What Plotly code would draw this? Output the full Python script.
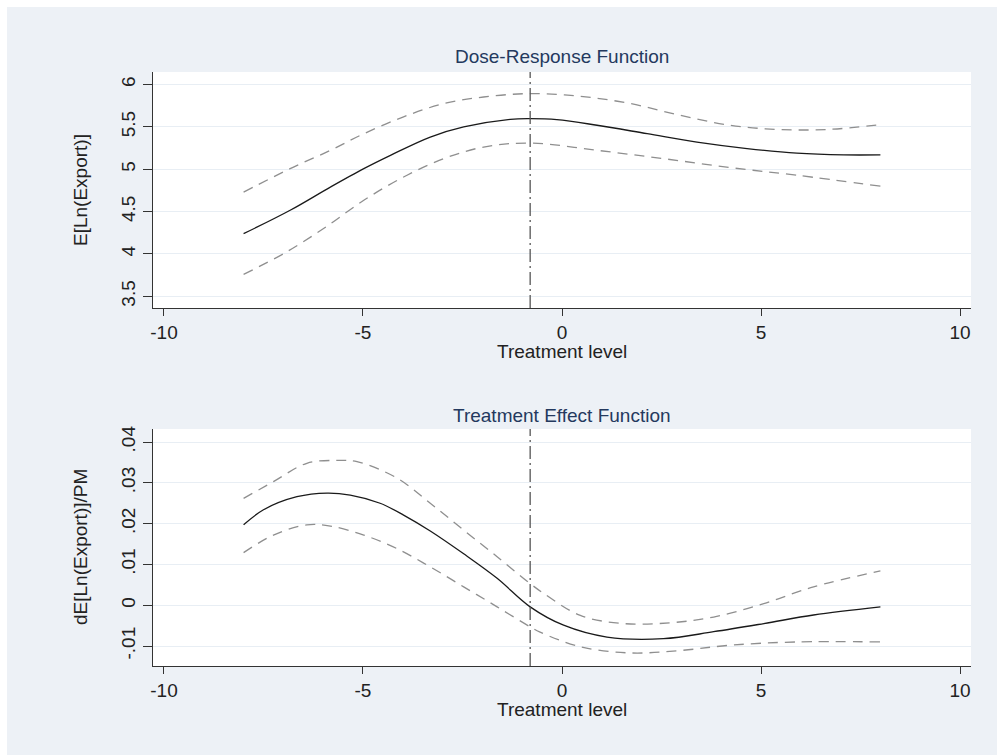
import plotly.graph_objects as go

# ---------------- data ----------------
# Dose-Response Function
dr_x = [-8.0, -6.83, -5.82, -4.98, -4.31, -3.31, -2.47, -1.30, -0.80, -0.13, 0.88, 2.14, 3.39, 4.65, 5.90, 7.08, 8.0]
dr_mean = [4.24, 4.516, 4.79, 5.008, 5.165, 5.381, 5.50, 5.59, 5.598, 5.587, 5.52, 5.42, 5.32, 5.244, 5.19, 5.17, 5.17]

dr_up_x = [-8.0, -6.83, -5.82, -4.98, -3.98, -2.97, -1.97, -0.80, 0.46, 1.72, 2.97, 4.23, 5.48, 6.74, 8.0]
dr_upper = [4.73, 5.008, 5.224, 5.42, 5.62, 5.776, 5.854, 5.894, 5.862, 5.776, 5.637, 5.52, 5.469, 5.472, 5.528]

dr_lo_x = [-8.0, -6.99, -5.99, -4.98, -3.98, -2.97, -1.97, -0.80, 0.88, 2.55, 4.23, 5.90, 8.0]
dr_lower = [3.76, 4.005, 4.30, 4.634, 4.909, 5.126, 5.263, 5.31, 5.224, 5.126, 5.02, 4.93, 4.80]

# Treatment Effect Function
te_x = [-8.0, -7.5, -6.66, -5.9, -5.32, -4.57, -3.98, -3.31, -2.47, -1.63, -0.80, 0.04, 1.13, 2.55, 3.81, 5.07, 6.32, 8.0]
te_mean = [0.0197, 0.0234, 0.0266, 0.0275, 0.0270, 0.0250, 0.0221, 0.0182, 0.0126, 0.0066, -0.0004,
           -0.0049, -0.0078, -0.0082, -0.0065, -0.0045, -0.0024, -0.0004]

te_up_x = [-8.0, -7.25, -6.41, -5.65, -5.15, -4.15, -3.31, -2.47, -1.63, -0.80, -0.46, 0.46, 1.55, 2.72, 3.81, 5.07, 6.32, 8.0]
te_upper = [0.0262, 0.0303, 0.0348, 0.0355, 0.0352, 0.0312, 0.0250, 0.0184, 0.0119, 0.0053, 0.0029,
            -0.0025, -0.0045, -0.0043, -0.0029, 0.0004, 0.0045, 0.0084]

te_lo_x = [-8.0, -7.25, -6.41, -5.82, -4.98, -4.15, -3.31, -2.47, -1.63, -0.80, -0.55, 0.46, 1.72, 2.97, 4.23, 5.90, 8.0]
te_lower = [0.0129, 0.0172, 0.0197, 0.0194, 0.0172, 0.0139, 0.0094, 0.0045, -0.0004, -0.0053, -0.0066,
            -0.0102, -0.0117, -0.0111, -0.0098, -0.0090, -0.0090]

ref_x = -0.8

x_ticks = [-10, -5, 0, 5, 10]
x_labels = ["-10", "-5", "0", "5", "10"]
y1_ticks = [3.5, 4, 4.5, 5, 5.5, 6]
y1_labels = ["3.5", "4", "4.5", "5", "5.5", "6"]
y2_ticks = [-0.01, 0, 0.01, 0.02, 0.03, 0.04]
y2_labels = ["-.01", "0", ".01", ".02", ".03", ".04"]

titles = ["Dose-Response Function", "Treatment Effect Function"]
x_title = "Treatment level"
y_titles = ["E[Ln(Export)]", "dE[Ln(Export)]/PM"]

# ---------------- style ----------------
FONT = "Liberation Sans, Arial, sans-serif"
BG = "#edf1f6"
GRID = "#e8eef4"
TITLE_COLOR = "#24395e"
TEXT = "#222222"
MAIN = dict(color="#1a1a1a", width=1.3)
BAND = dict(color="#8f8f8f", width=1.3, dash="10px,7px")

fig = go.Figure()

def add_group(xm, ym, xu, yu, xl, yl, xa, ya):
    fig.add_trace(go.Scatter(x=xu, y=yu, mode="lines", line=BAND, line_shape="spline",
                             xaxis=xa, yaxis=ya, showlegend=False, hoverinfo="skip"))
    fig.add_trace(go.Scatter(x=xl, y=yl, mode="lines", line=BAND, line_shape="spline",
                             xaxis=xa, yaxis=ya, showlegend=False, hoverinfo="skip"))
    fig.add_trace(go.Scatter(x=xm, y=ym, mode="lines", line=MAIN, line_shape="spline",
                             xaxis=xa, yaxis=ya, showlegend=False))

add_group(dr_x, dr_mean, dr_up_x, dr_upper, dr_lo_x, dr_lower, "x", "y")
add_group(te_x, te_mean, te_up_x, te_upper, te_lo_x, te_lower, "x2", "y2")

W, H = 997, 755
ML, MR, MT, MB = 153, 26, 72, 89
PW, PH = W - ML - MR, H - MT - MB

def py(pix):  # pixel y -> paper fraction
    return (H - MB - pix) / PH

def px(pix):
    return (pix - ML) / PW

top_dom = [py(308), 1.0]
bot_dom = [0.0, py(429)]

xcommon = dict(range=[-10.276, 10.276], tickvals=x_ticks, ticktext=x_labels, showgrid=False,
               zeroline=False, showline=True, linecolor="#333333", linewidth=1.3,
               ticks="outside", ticklen=7, tickwidth=1.2, tickcolor="#333333",
               tickfont=dict(family=FONT, size=19, color=TEXT))
ycommon = dict(showgrid=True, gridcolor=GRID, gridwidth=1.2, zeroline=False, showline=True,
               linecolor="#333333", linewidth=1.3, ticks="outside", ticklen=9, tickwidth=1.2,
               tickcolor="#333333", tickangle=-90,
               tickfont=dict(family=FONT, size=19, color=TEXT))

fig.update_layout(
    width=W, height=H,
    margin=dict(l=ML, r=MR, t=MT, b=MB, pad=0),
    paper_bgcolor=BG, plot_bgcolor="white",
    xaxis=dict(domain=[0, 1], anchor="y", **xcommon),
    yaxis=dict(domain=top_dom, anchor="x", range=[3.362, 6.149], tickvals=y1_ticks,
               ticktext=y1_labels, **ycommon),
    xaxis2=dict(domain=[0, 1], anchor="y2", **xcommon),
    yaxis2=dict(domain=bot_dom, anchor="x2", range=[-0.0149, 0.0432], tickvals=y2_ticks,
                ticktext=y2_labels, **ycommon),
)

# white border strips (top/left) of the outer frame
fig.add_shape(type="rect", xref="paper", yref="paper", x0=px(-50), x1=px(1100), y0=py(7), y1=py(-50),
              fillcolor="white", line_width=0, layer="below")
fig.add_shape(type="rect", xref="paper", yref="paper", x0=px(-50), x1=px(7), y0=py(800), y1=py(-50),
              fillcolor="white", line_width=0, layer="below")

# vertical reference lines
for xa, ya in (("x", "y"), ("x2", "y2")):
    fig.add_shape(type="line", xref=xa, yref=f"{ya} domain", x0=ref_x, x1=ref_x, y0=0, y1=1,
                  line=dict(color="#555555", width=1.3, dash="13px,4px,2px,4px"))

anns = [
    dict(text=titles[0], x=0.5, y=py(57), font=dict(size=19, color=TITLE_COLOR)),
    dict(text=titles[1], x=0.5, y=py(415), font=dict(size=19, color=TITLE_COLOR)),
    dict(text=x_title, x=0.5, y=py(351), font=dict(size=19, color=TEXT)),
    dict(text=x_title, x=0.5, y=py(709), font=dict(size=19, color=TEXT)),
    dict(text=y_titles[0], x=px(80), y=py(190), textangle=-90, font=dict(size=19, color=TEXT)),
    dict(text=y_titles[1], x=px(80), y=py(547), textangle=-90, font=dict(size=19, color=TEXT)),
]
for a in anns:
    a["font"]["family"] = FONT
    fig.add_annotation(xref="paper", yref="paper", showarrow=False, xanchor="center",
                       yanchor="middle", **a)

fig.write_html("out.html")
